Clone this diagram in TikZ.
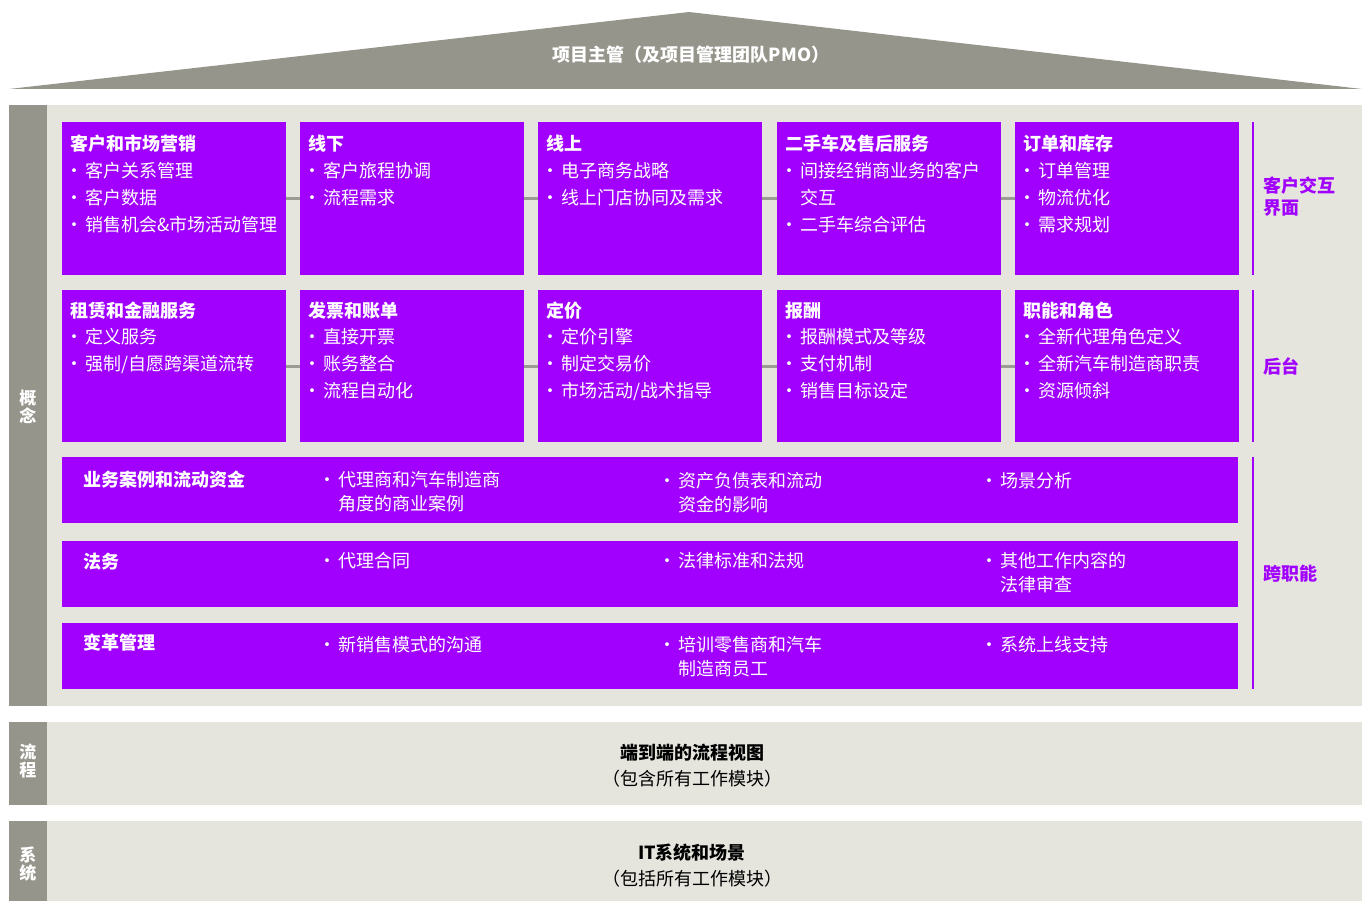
\documentclass[tikz,border=0pt]{standalone}
\usepackage{fontspec}
\setmainfont{Noto Sans CJK SC}
\definecolor{purp}{HTML}{A100FF}
\definecolor{bandg}{HTML}{96958C}
\definecolor{lightg}{HTML}{E5E4DD}
\definecolor{roofg}{HTML}{96958B}
\definecolor{conng}{HTML}{9B9B93}
\newcommand\stk[2]{\vtop{\baselineskip=#1\lineskiplimit=-100pt\lineskip=0pt\relax #2}}
\newcommand\bu[1]{\hbox{\makebox[15pt][l]{\hspace*{-5pt}•}#1}}
\newcommand\cont[1]{\hbox{\hspace*{15pt}#1}}
\newcommand\hd[1]{\hbox{\bfseries #1}}
\tikzset{
  pbox/.style={fill=purp, draw=none, inner sep=0pt, anchor=north west},
  txt/.style={text=white, font=\fontsize{18}{27}\selectfont, inner sep=0pt, anchor=base west},
  htxt/.style={txt, font=\bfseries\fontsize{18}{27}\selectfont},
  lab/.style={text=purp, font=\bfseries\fontsize{18}{22}\selectfont, inner sep=0pt, anchor=base west},
  bandlab/.style={text=white, font=\bfseries\fontsize{17}{18}\selectfont, inner sep=0pt},
  conn/.style={draw=conng, line width=3pt},
  vline/.style={draw=purp, line width=2.5pt},
  bot/.style={text=black, font=\fontsize{18}{22}\selectfont, inner sep=0pt, anchor=base},
}
\begin{document}
\begin{tikzpicture}[x=1pt,y=-1pt]
\useasboundingbox (0,0) rectangle (1362,901);
% roof
\fill[roofg] (9,89) -- (689,12) -- (1362,89) -- cycle;
\node[text=white, font=\bfseries\fontsize{18}{20}\selectfont, inner sep=0pt, anchor=base] (pmo) at (691,62) {项目主管（及项目管理团队PMO）};
% panels
\fill[lightg] (47,105) rectangle (1362,706);
\fill[bandg] (9,105) rectangle (47,706);
\fill[lightg] (47,722) rectangle (1362,805);
\fill[bandg] (9,722) rectangle (47,805);
\fill[lightg] (47,821) rectangle (1362,901);
\fill[bandg] (9,821) rectangle (47,901);
\node[bandlab] (gn) at (28,407) {\stk{18pt}{\hbox{概}\hbox{念}}};
\node[bandlab] (lc) at (28,761) {\stk{18pt}{\hbox{流}\hbox{程}}};
\node[bandlab] (xt) at (28,864) {\stk{18pt}{\hbox{系}\hbox{统}}};
% row 1 boxes
\node[pbox, minimum width=224pt, minimum height=153pt] (b1) at (62,122) {};
\node[pbox, minimum width=224pt, minimum height=153pt] (b2) at (300,122) {};
\node[pbox, minimum width=224pt, minimum height=153pt] (b3) at (538,122) {};
\node[pbox, minimum width=224pt, minimum height=153pt] (b4) at (777,122) {};
\node[pbox, minimum width=224pt, minimum height=153pt] (b5) at (1015,122) {};
% row 2 boxes
\node[pbox, minimum width=224pt, minimum height=152pt] (b6) at (62,290) {};
\node[pbox, minimum width=224pt, minimum height=152pt] (b7) at (300,290) {};
\node[pbox, minimum width=224pt, minimum height=152pt] (b8) at (538,290) {};
\node[pbox, minimum width=224pt, minimum height=152pt] (b9) at (777,290) {};
\node[pbox, minimum width=224pt, minimum height=152pt] (b10) at (1015,290) {};
% connectors
\draw[conn] (b1) -- (b2);
\draw[conn] (b2) -- (b3);
\draw[conn] (b3) -- (b4);
\draw[conn] (b4) -- (b5);
\draw[conn] (b6) -- (b7);
\draw[conn] (b7) -- (b8);
\draw[conn] (b8) -- (b9);
\draw[conn] (b9) -- (b10);
% row 1 text
\node[txt] (t1) at (70,151) {\stk{27pt}{\hd{客户和市场营销}\bu{客户关系管理}\bu{客户数据}\bu{销售机会\&市场活动管理}}};
\node[txt] (t2) at (308,151) {\stk{27pt}{\hd{线下}\bu{客户旅程协调}\bu{流程需求}}};
\node[txt] (t3) at (546,151) {\stk{27pt}{\hd{线上}\bu{电子商务战略}\bu{线上门店协同及需求}}};
\node[txt] (t4) at (785,151) {\stk{27pt}{\hd{二手车及售后服务}\bu{间接经销商业务的客户}\cont{交互}\bu{二手车综合评估}}};
\node[txt] (t5) at (1023,151) {\stk{27pt}{\hd{订单和库存}\bu{订单管理}\bu{物流优化}\bu{需求规划}}};
% row 2 text
\node[txt] (t6) at (70,317) {\stk{26.7pt}{\hd{租赁和金融服务}\bu{定义服务}\bu{强制/自愿跨渠道流转}}};
\node[txt] (t7) at (308,317) {\stk{26.7pt}{\hd{发票和账单}\bu{直接开票}\bu{账务整合}\bu{流程自动化}}};
\node[txt] (t8) at (546,317) {\stk{26.7pt}{\hd{定价}\bu{定价引擎}\bu{制定交易价}\bu{市场活动/战术指导}}};
\node[txt] (t9) at (785,317) {\stk{26.7pt}{\hd{报酬}\bu{报酬模式及等级}\bu{支付机制}\bu{销售目标设定}}};
\node[txt] (t10) at (1023,317) {\stk{26.7pt}{\hd{职能和角色}\bu{全新代理角色定义}\bu{全新汽车制造商职责}\bu{资源倾斜}}};
% wide rows
\node[pbox, minimum width=1176pt, minimum height=66pt] (w1) at (62,457) {};
\node[pbox, minimum width=1176pt, minimum height=66pt] (w2) at (62,541) {};
\node[pbox, minimum width=1176pt, minimum height=66pt] (w3) at (62,623) {};
\node[htxt] (w1h) at (83,486) {业务案例和流动资金};
\node[txt] (w1a) at (323,486) {\stk{24pt}{\bu{代理商和汽车制造商}\cont{角度的商业案例}}};
\node[txt] (w1b) at (663,487) {\stk{24pt}{\bu{资产负债表和流动}\cont{资金的影响}}};
\node[txt] (w1c) at (985,487) {\stk{24pt}{\bu{场景分析}}};
\node[htxt] (w2h) at (83,568) {法务};
\node[txt] (w2a) at (323,567) {\stk{24pt}{\bu{代理合同}}};
\node[txt] (w2b) at (663,567) {\stk{24pt}{\bu{法律标准和法规}}};
\node[txt] (w2c) at (985,567) {\stk{24pt}{\bu{其他工作内容的}\cont{法律审查}}};
\node[htxt] (w3h) at (83,649) {变革管理};
\node[txt] (w3a) at (323,651) {\stk{24pt}{\bu{新销售模式的沟通}}};
\node[txt] (w3b) at (663,651) {\stk{24pt}{\bu{培训零售商和汽车}\cont{制造商员工}}};
\node[txt] (w3c) at (985,651) {\stk{24pt}{\bu{系统上线支持}}};
% right side lines and labels
\draw[vline] (1253,122) -- (1253,275);
\draw[vline] (1253,290) -- (1253,442);
\draw[vline] (1253,457) -- (1253,689);
\node[lab] (l1) at (1263,193) {\stk{22pt}{\hbox{客户交互}\hbox{界面}}};
\node[lab] (l2) at (1263,373) {后台};
\node[lab] (l3) at (1263,580) {跨职能};
% bottom texts
\node[bot, font=\bfseries\fontsize{18}{22}\selectfont] (f1) at (692,759) {端到端的流程视图};
\node[bot] (f2) at (692,785) {（包含所有工作模块）};
\node[bot, font=\bfseries\fontsize{18}{22}\selectfont] (s1) at (692,859) {IT系统和场景};
\node[bot] (s2) at (692,885) {（包括所有工作模块）};
\end{tikzpicture}
\end{document}
